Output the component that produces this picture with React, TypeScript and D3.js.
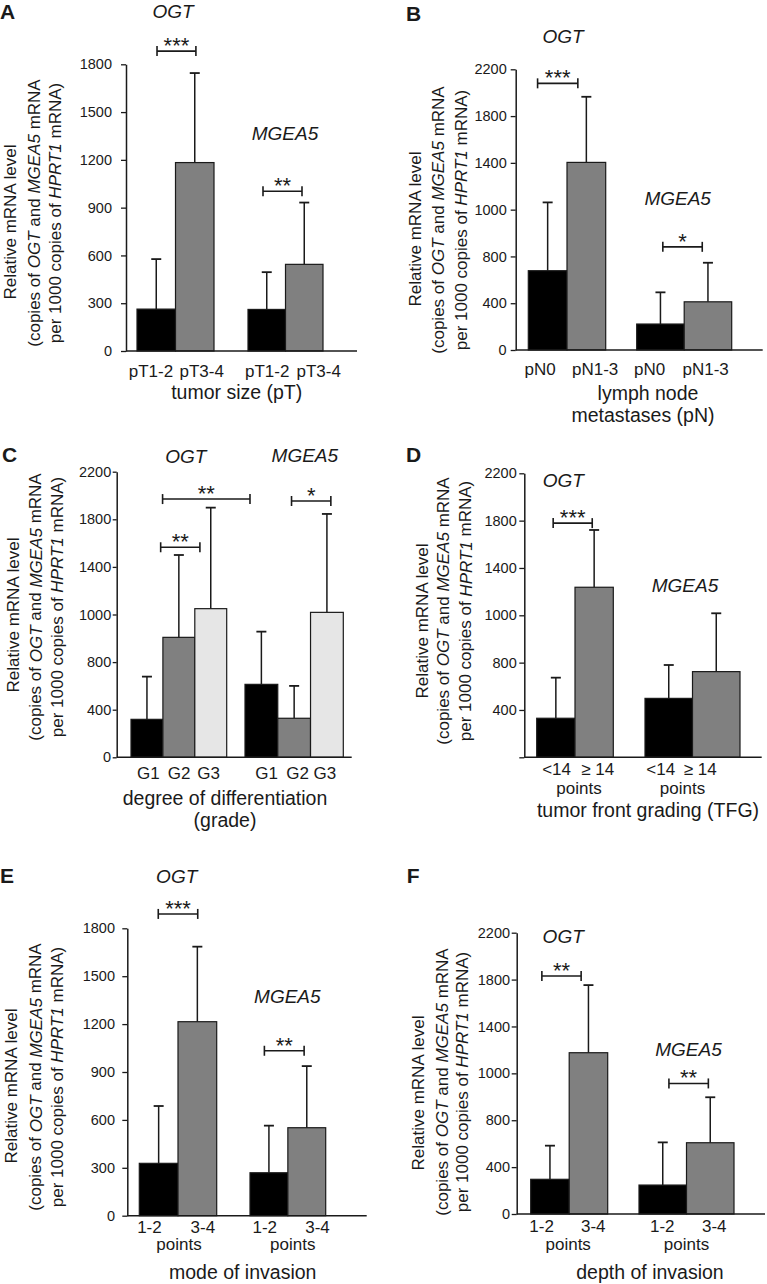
import React, { useEffect, useRef } from 'react';
import * as d3 from 'd3';

const FONT = '"Liberation Sans", Arial, Helvetica, sans-serif';
const INK = '#1a1a1a';
const BLACK = '#000000';
const GRAY = '#808080';
const LIGHT = '#e6e6e6';

// y ticks as printed in the source figure (the 400-step panels skip 1200 and print 1000)
const ticks300 = [0, 300, 600, 900, 1200, 1500, 1800];
const ticks400 = [0, 400, 800, 1000, 1400, 1800, 2200];
const labels300 = ticks300.map(String);
const labels400 = ticks400.map(String);
const labels400D = ['', '400', '800', '1000', '1400', '1800', '2200'];

const genes = ['OGT', 'MGEA5'];

// A: tumor size
const subsA = ['pT1-2', 'pT3-4'];
const ogtA = [263, 1183];
const ogtSdA = [314, 562];
const mgeaA = [261, 544];
const mgeaSdA = [234, 388];
const sigA = [
  { group: 0, from: 0.52, to: 1.53, at: 1883, label: '***' },
  { group: 1, from: 0.4, to: 1.44, at: 1003, label: '**' },
];
const titleAtA = [2088, 1323];

// B: lymph node metastases
const subsB = ['pN0', 'pN1-3'];
const ogtB = [678, 1404];
const ogtSdB = [384, 561];
const mgeaB = [222, 412];
const mgeaSdB = [271, 334];
const sigB = [
  { group: 0, from: 0.24, to: 1.28, at: 2080, label: '***' },
  { group: 1, from: 0.55, to: 1.38, at: 841, label: '*' },
];
const titleAtB = [2424, 1039];

// C: grade
const subsC = ['G1', 'G2', 'G3'];
const ogtC = [319, 904, 1049];
const ogtSdC = [359, 596, 849];
const mgeaC = [613, 328, 1018];
const mgeaSdC = [315, 272, 827];
const sigC = [
  { group: 0, from: 0.93, to: 2.16, at: 1565, label: '**' },
  { group: 0, from: 0.99, to: 3.73, at: 1970, label: '**' },
  { group: 1, from: 1.42, to: 2.62, at: 1954, label: '*' },
];
const titleAtC = [2270, 2284];

// D: tumor front grading
const subsD = ['<14', '\u2265 14'];
const ogtD = [330, 1237];
const ogtSdD = [343, 484];
const mgeaD = [498, 724];
const mgeaSdD = [282, 293];
const sigD = [{ group: 0, from: 0.43, to: 1.45, at: 1779, label: '***' }];
const titleAtD = [2088, 1200];

// E: mode of invasion
const subsE = ['1-2', '3-4'];
const ogtE = [328, 1215];
const ogtSdE = [359, 470];
const mgeaE = [269, 551];
const mgeaSdE = [295, 386];
const sigE = [
  { group: 0, from: 0.49, to: 1.51, at: 1890, label: '***' },
  { group: 1, from: 0.38, to: 1.43, at: 1033, label: '**' },
];
const titleAtE = [2086, 1334];

// F: depth of invasion
const subsF = ['1-2', '3-4'];
const ogtF = [296, 1176];
const ogtSdF = [287, 577];
const mgeaF = [247, 608];
const mgeaSdF = [364, 290];
const sigF = [
  { group: 0, from: 0.29, to: 1.31, at: 1830, label: '**' },
  { group: 1, from: 0.63, to: 1.46, at: 957, label: '**' },
];
const titleAtF = [2108, 1148];

const panels = [
  {
    letter: 'A', letterPos: [0, 19],
    ticks: ticks300, tickLabels: labels300,
    axisX: 126, axisEnd: 357, yTop: 64.3, yBottom: 351, tickSize: 5, tickPad: 9,
    groupsPx: [[137, 214], [248, 323]],
    subs: subsA, fills: [BLACK, GRAY],
    values: [ogtA, mgeaA], sds: [ogtSdA, mgeaSdA], sig: sigA,
    titleAt: titleAtA, titleDx: [-2.5, -0.5],
    labelDx: [[-5.3, 7], [0.5, 14.5]], labelY: 377,
    points: null,
    axisTitle: ['tumor size (pT)'], axisTitleX: [236.7], axisTitleY: [399],
    yLabelX: [10, 34, 55], yLabelCy: 213, yLabelCy1: 222,
  },
  {
    letter: 'B', letterPos: [406, 21],
    ticks: ticks400, tickLabels: labels400,
    axisX: 515.7, axisEnd: 762.7, yTop: 69.3, yBottom: 350, tickSize: 5, tickPad: 4,
    groupsPx: [[528.3, 605.7], [636.7, 731.7]],
    subs: subsB, fills: [BLACK, GRAY],
    values: [ogtB, mgeaB], sds: [ogtSdB, mgeaSdB], sig: sigB,
    titleAt: titleAtB, titleDx: [-4, -6.5],
    labelDx: [[-7.5, 8.8], [-10.8, -2.3]], labelY: 375,
    points: null,
    axisTitle: ['lymph node', 'metastases (pN)'], axisTitleX: [648, 643], axisTitleY: [400, 422],
    yLabelX: [415, 438, 461], yLabelCy: 220, yLabelCy1: 229,
  },
  {
    letter: 'C', letterPos: [2, 462],
    ticks: ticks400, tickLabels: labels400,
    axisX: 116.7, axisEnd: 351.7, yTop: 471.7, yBottom: 757.3, tickSize: 4, tickPad: 1.5,
    groupsPx: [[131, 226.7], [245, 343.3]],
    subs: subsC, fills: [BLACK, GRAY, LIGHT],
    values: [ogtC, mgeaC], sds: [ogtSdC, mgeaSdC], sig: sigC,
    titleAt: titleAtC, titleDx: [7, 10.7],
    labelDx: [[1.3, 0.2, -2.2], [5.3, 3.5, -2]], labelY: 779,
    points: null,
    axisTitle: ['degree of differentiation', '(grade)'], axisTitleX: [225, 225], axisTitleY: [805, 827],
    yLabelX: [13.3, 35.7, 57.3], yLabelCy: 607, yLabelCy1: 615,
  },
  {
    letter: 'D', letterPos: [406, 462],
    ticks: ticks400, tickLabels: labels400D,
    axisX: 524.3, axisEnd: 761.7, yTop: 473.3, yBottom: 757.3, tickSize: 5, tickPad: 2.6,
    groupsPx: [[536.7, 613.3], [645, 740]],
    subs: subsD, fills: [BLACK, GRAY],
    values: [ogtD, mgeaD], sds: [ogtSdD, mgeaSdD], sig: sigD,
    titleAt: titleAtD, titleDx: [-11.7, -7.5],
    labelDx: [[0.7, 3.5], [-8, -16]], labelY: 775,
    points: { dx: [4, -10], y: 794 },
    axisTitle: ['tumor front grading (TFG)'], axisTitleX: [648], axisTitleY: [817],
    yLabelX: [422.3, 443.3, 465.7], yLabelCy: 611, yLabelCy1: 621,
  },
  {
    letter: 'E', letterPos: [0, 882.7],
    ticks: ticks300, tickLabels: labels300,
    axisX: 127.3, axisEnd: 366.7, yTop: 928.3, yBottom: 1215.7, tickSize: 5, tickPad: 7.3,
    groupsPx: [[139.3, 216.7], [250, 325.7]],
    subs: subsE, fills: [BLACK, GRAY],
    values: [ogtE, mgeaE], sds: [ogtSdE, mgeaSdE], sig: sigE,
    titleAt: titleAtE, titleDx: [-1.3, -0.5],
    labelDx: [[-9.2, 5.5], [-4.2, 10.7]], labelY: 1233,
    points: { dx: [1, 4.9], y: 1249.5 },
    axisTitle: ['mode of invasion'], axisTitleX: [242.7], axisTitleY: [1279],
    yLabelX: [11.7, 35.7, 57.3], yLabelCy: 1077, yLabelCy1: 1086,
  },
  {
    letter: 'F', letterPos: [406.7, 882.7],
    ticks: ticks400, tickLabels: labels400,
    axisX: 516.7, axisEnd: 765, yTop: 932.7, yBottom: 1214, tickSize: 5, tickPad: 1.7,
    groupsPx: [[530.7, 607.7], [639, 734]],
    subs: subsF, fills: [BLACK, GRAY],
    values: [ogtF, mgeaF], sds: [ogtSdF, mgeaSdF], sig: sigF,
    titleAt: titleAtF, titleDx: [-6, 2],
    labelDx: [[-8.3, 4.8], [-0.5, 4]], labelY: 1232,
    points: { dx: [-1, 0], y: 1250 },
    axisTitle: ['depth of invasion'], axisTitleX: [650], axisTitleY: [1279],
    yLabelX: [418.3, 442.3, 462.3], yLabelCy: 1082, yLabelCy1: 1093,
  },
];

function YAxis({ y, ticks, labels, x, size, pad }: any) {
  const ref = useRef<SVGGElement>(null);
  useEffect(() => {
    if (!ref.current) return;
    const g = d3.select(ref.current);
    g.selectAll('*').remove();
    g.call(
      d3.axisLeft(y)
        .tickValues(ticks)
        .tickFormat((d: any) => labels[ticks.indexOf(d)])
        .tickSize(size)
        .tickSizeOuter(0)
        .tickPadding(pad) as any
    );
    g.attr('font-family', FONT).attr('font-size', 14.5);
    g.select('.domain').attr('stroke', INK).attr('stroke-width', 1.5);
    g.selectAll('.tick line').attr('stroke', INK).attr('stroke-width', 1.3);
    g.selectAll('.tick text').attr('fill', INK);
  }, [y, ticks, labels, size, pad]);
  return <g ref={ref} transform={`translate(${x},0)`} />;
}

function YLabel({ xs, cy, cy1 }: { xs: number[]; cy: number; cy1: number }) {
  const common = { textAnchor: 'middle' as const, dominantBaseline: 'central' as const, fontSize: 17, fill: INK };
  return (
    <g fontFamily={FONT}>
      <text {...common} transform={`translate(${xs[0]},${cy1}) rotate(-90)`}>Relative mRNA level</text>
      <text {...common} transform={`translate(${xs[1]},${cy}) rotate(-90)`}>
        (copies of <tspan fontStyle="italic">OGT</tspan> and <tspan fontStyle="italic">MGEA5</tspan> mRNA
      </text>
      <text {...common} transform={`translate(${xs[2]},${cy}) rotate(-90)`}>
        per 1000 copies of <tspan fontStyle="italic">HPRT1</tspan> mRNA)
      </text>
    </g>
  );
}

function Panel({ p }: { p: any }) {
  const n = p.ticks.length;
  const y = d3
    .scaleLinear()
    .domain(p.ticks)
    .range(p.ticks.map((_: number, i: number) => p.yBottom - (i * (p.yBottom - p.yTop)) / (n - 1)));
  const xb = p.groupsPx.map((r: number[]) => d3.scaleBand<string>().domain(p.subs).range(r as [number, number]));
  const y0 = y(0);

  return (
    <g>
      <text x={p.letterPos[0]} y={p.letterPos[1]} fontFamily={FONT} fontWeight="bold" fontSize={21} fill={INK}>
        {p.letter}
      </text>

      {genes.map((gene, g) => {
        const sc = xb[g];
        const bw = sc.bandwidth();
        const center = (p.groupsPx[g][0] + p.groupsPx[g][1]) / 2;
        return (
          <g key={gene}>
            {p.subs.map((s: string, i: number) => {
              const v = p.values[g][i];
              const top = y(v + p.sds[g][i]);
              const cx = (sc(s) as number) + bw / 2;
              return (
                <g key={s}>
                  <line x1={cx} x2={cx} y1={y(v)} y2={top} stroke={INK} strokeWidth={1.5} />
                  <line x1={cx - 5} x2={cx + 5} y1={top} y2={top} stroke={INK} strokeWidth={1.8} />
                  <rect
                    x={sc(s)}
                    y={y(v)}
                    width={bw}
                    height={y0 - y(v)}
                    fill={p.fills[i]}
                    stroke={INK}
                    strokeWidth={1.2}
                  />
                </g>
              );
            })}
            <text
              x={center + p.titleDx[g]}
              y={y(p.titleAt[g])}
              textAnchor="middle"
              fontFamily={FONT}
              fontStyle="italic"
              fontSize={19}
              fill={INK}
            >
              {gene}
            </text>
            {p.subs.map((s: string, i: number) => (
              <text
                key={'l' + s}
                x={(sc(s) as number) + bw / 2 + p.labelDx[g][i]}
                y={p.labelY}
                textAnchor="middle"
                fontFamily={FONT}
                fontSize={17}
                fill={INK}
              >
                {s}
              </text>
            ))}
            {p.points && (
              <text
                x={center + p.points.dx[g]}
                y={p.points.y}
                textAnchor="middle"
                fontFamily={FONT}
                fontSize={17}
                fill={INK}
              >
                points
              </text>
            )}
          </g>
        );
      })}

      {p.sig.map((b: any, k: number) => {
        const sc = xb[b.group];
        const left = sc(p.subs[0]) as number;
        const bw = sc.bandwidth();
        const x1 = left + b.from * bw;
        const x2 = left + b.to * bw;
        const yy = y(b.at);
        return (
          <g key={k} stroke={INK} strokeWidth={1.6}>
            <line x1={x1} x2={x2} y1={yy} y2={yy} />
            <line x1={x1} x2={x1} y1={yy - 5} y2={yy + 5} />
            <line x1={x2} x2={x2} y1={yy - 5} y2={yy + 5} />
            <text
              x={(x1 + x2) / 2}
              y={yy + 2}
              textAnchor="middle"
              fontFamily={FONT}
              fontSize={22}
              fill={INK}
              stroke="none"
            >
              {b.label}
            </text>
          </g>
        );
      })}

      <line x1={p.axisX} x2={p.axisEnd} y1={y0} y2={y0} stroke={INK} strokeWidth={1.5} />
      <YAxis y={y} ticks={p.ticks} labels={p.tickLabels} x={p.axisX} size={p.tickSize} pad={p.tickPad} />

      {p.axisTitle.map((t: string, i: number) => (
        <text
          key={t}
          x={p.axisTitleX[i]}
          y={p.axisTitleY[i]}
          textAnchor="middle"
          fontFamily={FONT}
          fontSize={19.5}
          fill={INK}
        >
          {t}
        </text>
      ))}

      <YLabel xs={p.yLabelX} cy={p.yLabelCy} cy1={p.yLabelCy1} />
    </g>
  );
}

export default function App() {
  return (
    <svg
      width={767}
      height={1284}
      viewBox="0 0 767 1284"
      style={{ position: 'absolute', left: 0, top: 0, background: '#fff' }}
    >
      <rect width={767} height={1284} fill="#fff" />
      {panels.map((p) => (
        <Panel key={p.letter} p={p} />
      ))}
    </svg>
  );
}
